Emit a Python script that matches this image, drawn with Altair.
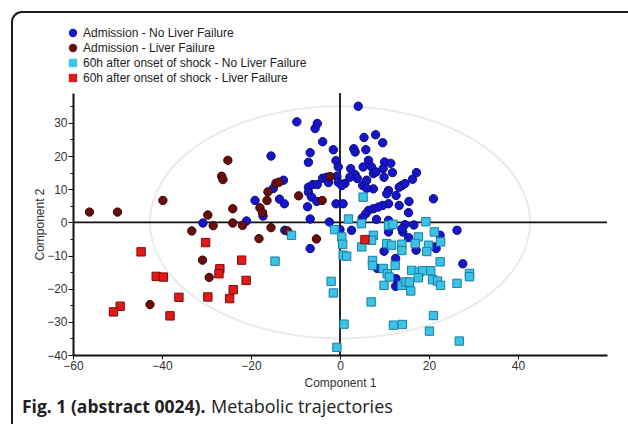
import altair as alt
import pandas as pd
import numpy as np

groups = [
    "Admission - No Liver Failure",
    "Admission - Liver Failure",
    "60h after onset of shock - No Liver Failure",
    "60h after onset of shock  - Liver Failure",
]

adm_nolf_x = [-30.8, -21.0, -19.1, -17.3, -15.5, -15.0, -13.6, -12.5, -12.7, -12.4, -9.7, -5.6, -5.1, -3.9,
              -1.5, -6.7, -7.1, -0.9, -0.4, -7.1, -6.1, -5.1, -3.9, -2.6, -3.0, -7.1, -6.4, -5.2, -7.3,
              -0.7, -0.4, -0.9, 0.7, -6.7, -2.4, -6.7,
              4.1, 5.4, 8.0, 9.6, 3.1, 3.4, 5.8, 10.0, 11.4, 6.4, 5.2, 2.4, 3.4, 3.9, 2.2, 1.1, 0.4, 5.1,
              6.0, 7.1, 7.5, 8.1, 9.7, 9.9, 11.8, 16.3, 17.2, 13.9, 13.3, 14.6, 10.9, 10.5, 12.6, 7.5, 6.0,
              15.5, 13.3, 10.9, 9.6, 8.6, 7.5, 6.4, 5.8, 15.4, 21.0, 5.0, 8.2, 10.9, 11.2, 14.6, 16.6, 14.1,
              26.3, 2.6, 0.0, 10.9, 13.9, 15.4, 9.9, 12.5, 17.1, 22.5, 21.3, 21.6, 27.6, 12.6, 8.4, 12.5]
adm_nolf_y = [-0.2, 0.4, 6.6, 1.9, 20.0, 10.2, 7.0, 5.6, 12.7, -2.4, 30.3, 28.3, 29.8, 24.3,
              21.9, 21.0, 18.1, 18.6, 16.7, 10.6, 11.4, 11.4, 13.3, 12.0, 13.6, 9.1, 7.6, 6.3, 4.7,
              13.9, 12.1, 5.6, 5.6, 1.0, 0.1, -7.9,
              35.0, 25.6, 26.4, 24.0, 22.2, 21.2, 21.9, 18.2, 17.8, 18.7, 16.7, 16.2, 14.4, 13.2, 13.6, 11.7, 11.1, 11.1,
              12.7, 16.7, 14.7, 15.2, 16.2, 13.6, 15.0, 13.0, 15.0, 11.1, 10.6, 11.7, 9.6, 8.6, 8.1, 10.1, 10.3,
              6.3, 5.1, 5.6, 5.1, 4.6, 4.1, 3.6, 2.6, 2.9, 7.1, 1.3, 0.9, 0.6, -1.4, -0.7, -0.8, -2.9,
              -2.4, -2.4, -2.2, -2.9, -1.9, -4.6, -8.7, -10.9, -8.4, -3.9, -7.4, -7.9, -12.5, -17.0, -13.9, -19.3]

adm_lf_x = [-56.3, -50.0, -39.8, -33.3, -42.7, -30.9, -29.4, -29.7, -28.5, -25.2, -26.6, -26.3, -24.1, -24.1,
            -21.9, -18.2, -18.0, -17.4, -16.4, -16.2, -14.4, -13.7, -15.5, -9.3, -4.0, -2.2, -11.8, -5.3]
adm_lf_y = [3.1, 3.1, 6.6, -2.6, -24.8, -11.4, -16.6, 2.2, -1.0, 18.7, 13.9, 12.9, 4.1, -0.2,
            -0.9, -4.9, 4.4, 2.9, 6.6, 9.2, 11.8, 12.1, -1.6, 8.0, 6.6, 13.8, -2.6, -5.0]

h60_nolf_x = [-14.6, -10.9, -1.2, 1.9, 4.8, 0.4, 0.6, 0.7, 1.5, 7.5, 4.9, 7.1, 10.5, 11.6, 13.9, 13.9, 17.6,
              16.9, 19.9, 19.5, 21.2, 22.6, 22.5, 7.3, 7.3, 9.7, 10.6, 11.1, 12.4, 9.9, 16.1, 17.8, 18.6,
              20.4, 17.6, 20.8, 21.9, 22.6, 13.9, 14.8, 15.6, 15.9, -2.0, -1.5, 7.0, 26.3, 29.1, 29.1,
              21.0, 0.9, 12.0, 14.0, 20.1, 26.8, -0.7, 5.2, 10.9, 11.9, 19.3]
h60_nolf_y = [-11.7, -3.9, -2.2, 1.0, -0.4, -4.4, -6.6, -9.9, -10.2, -3.9, -7.4, -5.4, -6.4, -6.9, -6.6, -8.5, -4.4,
              -6.4, -6.9, -8.8, -2.9, -5.9, -11.9, -11.5, -13.0, -13.9, -15.5, -16.5, -13.0, -19.0, -14.5, -15.0, -14.6,
              -14.6, -16.7, -17.3, -17.7, -19.0, -19.0, -18.0, -18.0, -20.7, -17.8, -21.3, -24.0, -18.4, -15.4, -16.4,
              -28.1, -30.7, -31.0, -30.8, -32.8, -35.8, -37.7, 7.6, -0.9, -0.6, 0.2]

h60_lf_x = [-44.7, -41.3, -39.7, -36.2, -49.4, -50.9, -38.2, -30.2, -29.7, -27.0, -27.2, -24.8, -22.1, -21.1,
            -24.0, 5.6]
h60_lf_y = [-8.9, -16.3, -16.5, -22.6, -25.3, -27.0, -28.2, -6.1, -22.5, -14.0, -15.5, -23.0, -11.4, -17.5,
            -20.3, -5.2]

x_ticks = [-60, -40, -20, 0, 20, 40]
y_ticks = [-40, -35, -30, -25, -20, -15, -10, -5, 0, 5, 10, 15, 20, 25, 30, 35]

fills = ["#1616c8", "#6a0c0c", "#3cc2e4", "#e01a1a"]
strokes = ["#0a0a80", "#3a0404", "#1a7fa6", "#880808"]
shapes = ["circle", "circle", "square", "square"]

rows = []
for g, xs, ys in zip(groups, [adm_nolf_x, adm_lf_x, h60_nolf_x, h60_lf_x],
                     [adm_nolf_y, adm_lf_y, h60_nolf_y, h60_lf_y]):
    for a, b in zip(xs, ys):
        rows.append({"group": g, "x": a, "y": b})
df = pd.DataFrame(rows)

# confidence ellipse (decoration)
t = np.linspace(0, 2 * np.pi, 241)
ell = pd.DataFrame({"x": 42.7 * np.cos(t), "y": 35.0 * np.sin(t), "o": np.arange(len(t))})

xscale = alt.Scale(domain=[-60, 60], nice=False, zero=False)
yscale = alt.Scale(domain=[-40, 39], nice=False, zero=False)

FONT = "Liberation Sans"

xaxis = alt.Axis(values=x_ticks, title="Component 1", grid=False, domainColor="#111", domainWidth=2,
                 tickColor="#111", tickSize=4, labelFont=FONT, labelFontSize=12, labelColor="#333",
                 titleFont=FONT, titleFontSize=12, titleFontWeight="normal", titleColor="#333",
                 labelPadding=1, titlePadding=6, labelFlush=False, labelOverlap=False)
yaxis = alt.Axis(values=y_ticks, title="Component 2", grid=False, domainColor="#111", domainWidth=2,
                 tickColor="#111",
                 tickSize={"condition": {"test": "datum.value % 10 === 0", "value": 5}, "value": 3},
                 labelExpr="datum.value % 10 === 0 ? datum.label : ''",
                 labelOverlap=False,
                 labelFont=FONT, labelFontSize=12, labelColor="#333",
                 titleFont=FONT, titleFontSize=12, titleFontWeight="normal", titleColor="#333",
                 labelPadding=1, titlePadding=0)

ellipse = alt.Chart(ell).mark_line(color="#eaeaea", strokeWidth=2).encode(
    x=alt.X("x:Q", scale=xscale, axis=xaxis),
    y=alt.Y("y:Q", scale=yscale, axis=yaxis),
    order="o:Q",
)

zero_df = pd.DataFrame({"v": [0]})
hline = alt.Chart(zero_df).mark_rule(color="#111", strokeWidth=1.8).encode(
    y=alt.Y("v:Q", scale=yscale, axis=yaxis, title="Component 2"))
vline = alt.Chart(zero_df).mark_rule(color="#111", strokeWidth=1.8).encode(
    x=alt.X("v:Q", scale=xscale, axis=xaxis, title="Component 1"))

legend = alt.Legend(title=None, orient="none", legendX=-6, legendY=-66,
                    labelFont=FONT, labelFontSize=12, labelColor="#222",
                    symbolSize=30, rowPadding=3, symbolStrokeWidth=0,
                    padding=0, labelOffset=4, labelLimit=400)

points = alt.Chart(df).mark_point(filled=True, opacity=1, strokeWidth=1).encode(
    x=alt.X("x:Q", scale=xscale, axis=xaxis),
    y=alt.Y("y:Q", scale=yscale, axis=yaxis),
    color=alt.Color("group:N", scale=alt.Scale(domain=groups, range=fills), legend=legend),
    shape=alt.Shape("group:N", scale=alt.Scale(domain=groups, range=shapes), legend=legend),
    stroke=alt.Stroke("group:N", scale=alt.Scale(domain=groups, range=strokes), legend=None),
    size=alt.Size("group:N", scale=alt.Scale(domain=groups, range=[70, 70, 54, 54]), legend=None),
)

one = pd.DataFrame({"a": [0]})
frame = alt.Chart(one).mark_rect(fill=None, fillOpacity=0, stroke="#1a1a1a", strokeWidth=2,
                                 cornerRadius=10).encode(
    x=alt.value(-61), y=alt.value(-81), x2=alt.value(700), y2=alt.value(400)
)

cap1 = alt.Chart(one).mark_text(align="left", baseline="middle", font="Open Sans", fontSize=17.5,
                                fontWeight="bold", color="#222").encode(
    x=alt.value(-51), y=alt.value(315), text=alt.value("Fig. 1 (abstract 0024).")
)
cap2 = alt.Chart(one).mark_text(align="left", baseline="middle", font="Open Sans", fontSize=18,
                                color="#222").encode(
    x=alt.value(138), y=alt.value(315), text=alt.value("Metabolic trajectories")
)

chart = alt.layer(frame, ellipse, hline, vline, points, cap1, cap2).resolve_scale(
    color="independent", shape="independent", stroke="independent", size="independent"
).properties(
    width=534, height=262,
    autosize=alt.AutoSizeParams(type="none"),
    padding={"left": 73, "top": 93, "right": 21, "bottom": 69},
).configure(background="white", view=alt.ViewConfig(stroke=None, strokeWidth=0))

chart.save("out.html", embed_options={"renderer": "svg", "actions": False})
